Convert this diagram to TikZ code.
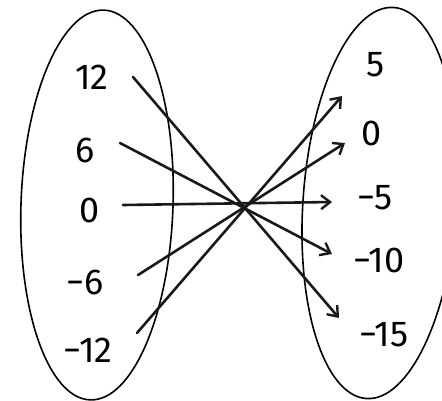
\documentclass[tikz,border=0pt]{standalone}
\usepackage{fontspec}
\setmainfont{Fira Sans}
\usetikzlibrary{arrows.meta}
\begin{document}
\begin{tikzpicture}[x=1pt,y=-1pt,
  lbl/.style={font=\fontsize{36}{40}\selectfont, inner sep=0pt},
  setring/.style={draw=black, line width=1.6pt},
  maparrow/.style={draw=black!90, line width=2.6pt, line cap=round,
    -{Straight Barb[length=9pt,width=14pt,line width=2.4pt]}}]
\useasboundingbox (0,0) rectangle (442,400);
% sets
\draw[setring] (97,205) ellipse[x radius=76, y radius=195, rotate=-2];
\draw[setring] (380,203) ellipse[x radius=77, y radius=196, rotate=-4];
% domain labels
\node[lbl] (l12) at (92,77) {12};
\node[lbl] (l6)  at (85,150) {6};
\node[lbl] (l0)  at (90,210) {0};
\node[lbl] (lm6) at (85,282) {−6};
\node[lbl] (lm12) at (88,350) {−12};
% range labels
\node[lbl] (r5)  at (376,65) {5};
\node[lbl] (r0)  at (372,133) {0};
\node[lbl] (rm5) at (375,198) {−5};
\node[lbl] (rm10) at (379,260) {−10};
\node[lbl] (rm15) at (384,335) {−15};
% connector ends
\coordinate (s12) at (133,77);
\coordinate (s6) at (120,143);
\coordinate (s0) at (123,205);
\coordinate (sm6) at (138,275);
\coordinate (sm12) at (137,333);
\coordinate (e5) at (342,96);
\coordinate (e0) at (345,143);
\coordinate (em5) at (332,202);
\coordinate (em10) at (332,254);
\coordinate (em15) at (339,318);
% mappings
\draw[maparrow] (s12) -- (em15);
\draw[maparrow] (s6) -- (em10);
\draw[maparrow] (s0) -- (em5);
\draw[maparrow] (sm6) -- (e0);
\draw[maparrow] (sm12) -- (e5);
\end{tikzpicture}
\end{document}
